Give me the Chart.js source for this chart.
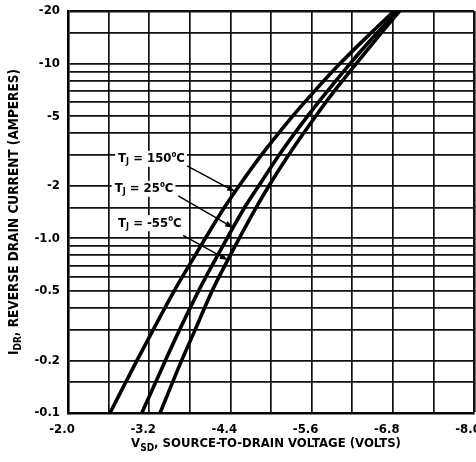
<!DOCTYPE html>
<html>
<head>
<meta charset="utf-8">
<script src="https://cdn.jsdelivr.net/npm/chart.js@4.4.1/dist/chart.umd.min.js"></script>
<style>
  html, body { margin: 0; padding: 0; background: #fff; overflow: hidden; }
  canvas { display: block; }
</style>
</head>
<body>
<canvas id="chart" width="476" height="462"></canvas>
<script>
// reverse drain current levels (amperes)
const current = [-0.1, -0.2, -0.3, -0.5, -0.7, -1.0, -1.5, -2, -3, -5, -7, -10, -15, -20];

// source-to-drain voltage (volts) at each current level, per junction temperature
const vsd150 = [-2.62, -3.02, -3.26, -3.57, -3.79, -4.03, -4.31, -4.53, -4.86, -5.32, -5.65, -6.02, -6.48, -6.82];
const vsd25 = [-3.09, -3.44, -3.65, -3.93, -4.13, -4.35, -4.61, -4.82, -5.12, -5.54, -5.84, -6.17, -6.57, -6.87];
const vsdMinus55 = [-3.36, -3.68, -3.88, -4.13, -4.32, -4.53, -4.78, -4.97, -5.26, -5.66, -5.94, -6.26, -6.63, -6.90];

// x grid every 0.6 V, labelled every 1.2 V
const xGrid = [-2.0, -2.6, -3.2, -3.8, -4.4, -5.0, -5.6, -6.2, -6.8, -7.4, -8.0];
const xLabelValues = [-2.0, -3.2, -4.4, -5.6, -6.8, -8.0];
const xLabels = ["-2.0", "-3.2", "-4.4", "-5.6", "-6.8", "-8.0"];

// log paper lines and the labelled ones
const yGrid = [0.1, 0.15, 0.2, 0.3, 0.4, 0.5, 0.6, 0.7, 0.8, 0.9,
               1, 1.5, 2, 3, 4, 5, 6, 7, 8, 9, 10, 15, 20];
const yLabelValues = [0.1, 0.2, 0.5, 1, 2, 5, 10, 20];
const yLabels = ["-0.1", "-0.2", "-0.5", "-1.0", "-2", "-5", "-10", "-20"];

const FONT = "'Liberation Sans Narrow', 'DejaVu Sans Condensed', sans-serif";

// callouts: label anchor and arrow start in data units, arrow tip on the curve at a current
const callouts = [
  { temp: "150", series: vsd150, label: [-2.74, -2.85], from: [-3.76, -2.6], tip: -1.85 },
  { temp: "25", series: vsd25, label: [-2.69, -1.92], from: [-3.63, -1.75], tip: -1.15 },
  { temp: "-55", series: vsdMinus55, label: [-2.74, -1.22], from: [-3.70, -1.04], tip: -0.75 }
];

function curve(vs) {
  return {
    data: vs.map((v, i) => ({ x: v, y: -current[i] })),
    showLine: true,
    borderColor: '#000',
    borderWidth: 3.6,
    pointRadius: 0,
    cubicInterpolationMode: 'monotone',
    fill: false
  };
}

// voltage on a curve at a given current, interpolated in log current
function voltageAt(series, amps) {
  const a = Math.log10(Math.abs(amps));
  for (let i = 0; i < current.length - 1; i++) {
    const l0 = Math.log10(-current[i]), l1 = Math.log10(-current[i + 1]);
    if (a >= l0 && a <= l1) {
      const t = (a - l0) / (l1 - l0);
      return series[i] + t * (series[i + 1] - series[i]);
    }
  }
  return series[series.length - 1];
}

// draws text runs with subscripts / superscripts, returns total width
function richText(ctx, parts, x, y, draw) {
  let w = 0;
  parts.forEach(p => {
    ctx.font = 'bold ' + p.size + 'px ' + FONT;
    if (draw) ctx.fillText(p.t, x + w, y + (p.dy || 0));
    w += ctx.measureText(p.t).width;
  });
  return w;
}

const extras = {
  id: 'extras',
  afterDatasetsDraw(chart) {
    const ctx = chart.ctx;
    const xs = chart.scales.x, ys = chart.scales.y;
    ctx.save();
    ctx.fillStyle = '#000';
    ctx.strokeStyle = '#000';
    ctx.textBaseline = 'middle';
    ctx.textAlign = 'left';

    callouts.forEach(c => {
      const parts = [
        { t: 'T', size: 13 }, { t: 'J', size: 9, dy: 3 },
        { t: ' = ' + c.temp, size: 13 }, { t: 'o', size: 8, dy: -4 }, { t: 'C', size: 13 }
      ];
      const lx = xs.getPixelForValue(c.label[0]);
      const ly = ys.getPixelForValue(-c.label[1]);
      const w = richText(ctx, parts, 0, 0, false);
      ctx.fillStyle = '#fff';
      ctx.fillRect(lx - 3, ly - 8, w + 5, 16);
      ctx.fillStyle = '#000';
      richText(ctx, parts, lx, ly, true);

      // arrow to the curve
      const x0 = xs.getPixelForValue(c.from[0]);
      const y0 = ys.getPixelForValue(-c.from[1]);
      const x1 = xs.getPixelForValue(voltageAt(c.series, c.tip));
      const y1 = ys.getPixelForValue(-c.tip);
      const ang = Math.atan2(y1 - y0, x1 - x0);
      ctx.lineWidth = 1.4;
      ctx.beginPath();
      ctx.moveTo(x0, y0);
      ctx.lineTo(x1 - 6 * Math.cos(ang), y1 - 6 * Math.sin(ang));
      ctx.stroke();
      ctx.beginPath();
      ctx.moveTo(x1, y1);
      ctx.lineTo(x1 - 8 * Math.cos(ang) + 3 * Math.sin(ang), y1 - 8 * Math.sin(ang) - 3 * Math.cos(ang));
      ctx.lineTo(x1 - 8 * Math.cos(ang) - 3 * Math.sin(ang), y1 - 8 * Math.sin(ang) + 3 * Math.cos(ang));
      ctx.closePath();
      ctx.fill();
    });

    const area = chart.chartArea;
    // x axis title
    const xParts = [
      { t: 'V', size: 13 }, { t: 'SD', size: 10, dy: 4 },
      { t: ', SOURCE-TO-DRAIN VOLTAGE (VOLTS)', size: 13 }
    ];
    const xw = richText(ctx, xParts, 0, 0, false);
    richText(ctx, xParts, (area.left + area.right) / 2 - 5 - xw / 2, 444, true);

    // y axis title, rotated
    const yParts = [
      { t: 'I', size: 13.5 }, { t: 'DR', size: 10, dy: 4 },
      { t: ', REVERSE DRAIN CURRENT (AMPERES)', size: 13.5 }
    ];
    const yw = richText(ctx, yParts, 0, 0, false);
    ctx.translate(14, (area.top + area.bottom) / 2);
    ctx.rotate(-Math.PI / 2);
    richText(ctx, yParts, -yw / 2, 0, true);
    ctx.restore();
  }
};

const tickFont = { family: FONT, size: 13, weight: 'bold' };

new Chart(document.getElementById('chart'), {
  type: 'scatter',
  data: { datasets: [curve(vsd150), curve(vsd25), curve(vsdMinus55)] },
  options: {
    animation: false,
    responsive: false,
    layout: { padding: { top: 11, right: 2, left: 0, bottom: 0 } },
    plugins: { legend: { display: false }, tooltip: { enabled: false } },
    scales: {
      x: {
        type: 'linear',
        min: -8,
        max: -2,
        reverse: true,
        afterBuildTicks: s => { s.ticks = xGrid.map(v => ({ value: v })); },
        // fixed axis band; the last label is allowed to run off the edge
        afterFit: s => { s.height = 49; s.paddingLeft = 0; s.paddingRight = 0; },
        ticks: {
          autoSkip: false,
          maxRotation: 0,
          padding: 9,
          labelOffset: -6,
          color: '#000',
          font: tickFont,
          callback: v => {
            const i = xLabelValues.findIndex(t => Math.abs(t - v) < 1e-6);
            return i >= 0 ? xLabels[i] : '';
          }
        },
        grid: {
          color: '#111',
          lineWidth: c => (c.tick && Math.abs(c.tick.value + 8) < 1e-6 ? 2.6 : 1.7),
          drawTicks: false
        },
        border: { color: '#000', width: 2.6 }
      },
      y: {
        type: 'logarithmic',
        min: 0.1,
        max: 20,
        afterBuildTicks: s => { s.ticks = yGrid.map(v => ({ value: v })); },
        afterFit: s => { s.width = 68; s.paddingTop = 0; s.paddingBottom = 0; },
        ticks: {
          autoSkip: false,
          padding: 8,
          color: '#000',
          font: tickFont,
          callback: v => {
            const i = yLabelValues.findIndex(t => Math.abs(t - v) < 1e-9);
            return i >= 0 ? yLabels[i] : '';
          }
        },
        grid: {
          color: '#111',
          lineWidth: c => (c.tick && c.tick.value === 20 ? 2.6 : 1.7),
          drawTicks: false
        },
        border: { color: '#000', width: 2.6 }
      }
    }
  },
  plugins: [extras]
});
</script>
</body>
</html>
